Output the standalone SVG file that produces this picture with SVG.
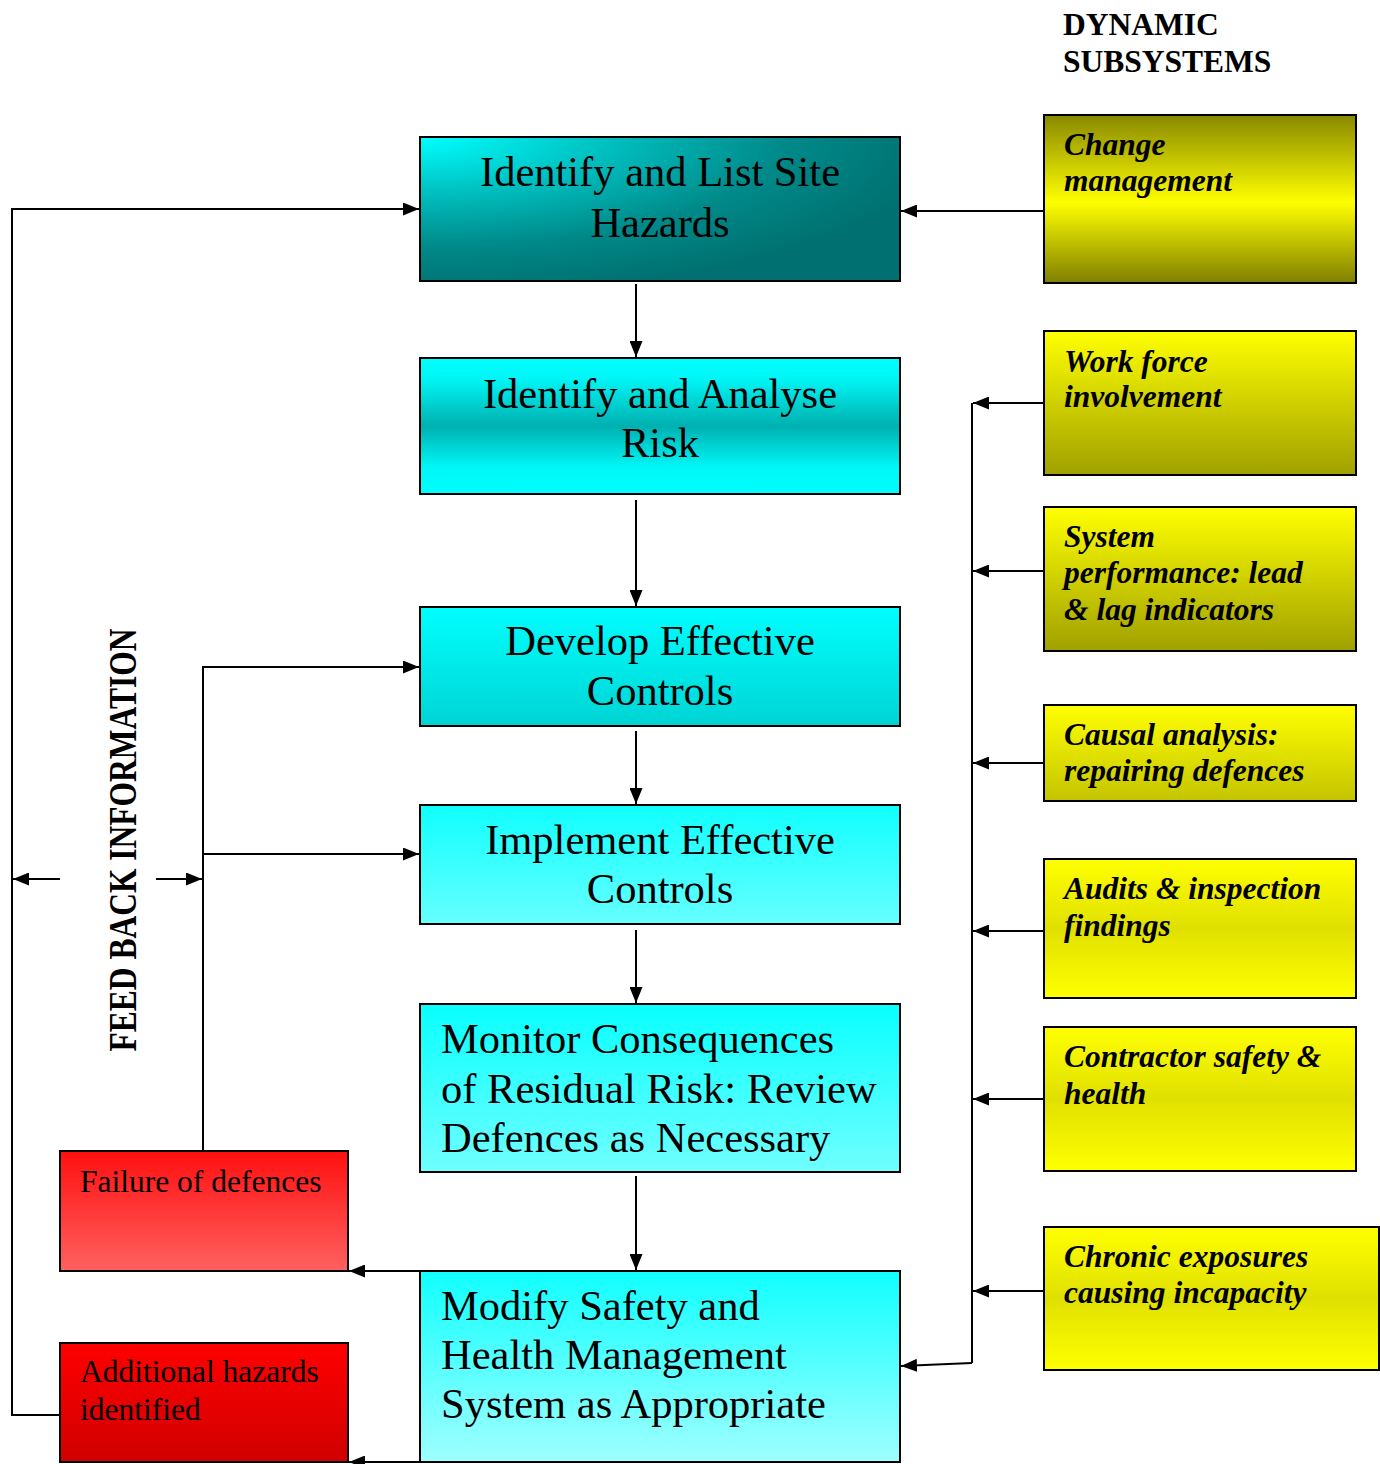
<svg xmlns="http://www.w3.org/2000/svg" width="1380" height="1464" viewBox="0 0 1380 1464">
<defs>
<style>
.box{stroke:#000;stroke-width:2}
.ct{font-family:"Liberation Serif","Times New Roman",serif;font-size:42.5px;fill:#000}
.yt{font-family:"Liberation Serif","Times New Roman",serif;font-size:31.5px;font-weight:bold;font-style:italic;fill:#000}
.rt{font-family:"Liberation Serif","Times New Roman",serif;font-size:31.5px;fill:#000}
.ht{font-family:"Liberation Serif","Times New Roman",serif;font-size:31.5px;font-weight:bold;fill:#000}
.ln{stroke:#000;stroke-width:2;fill:none}
.ar{stroke:#000;stroke-width:2;fill:none;marker-end:url(#ah)}
</style>
<marker id="ah" viewBox="0 0 16 13" refX="16" refY="6.5" markerWidth="16" markerHeight="13" orient="auto" markerUnits="userSpaceOnUse"><path d="M0,0 L16,6.5 L0,13 z" fill="#000"/></marker>
<radialGradient id="g1" cx="0" cy="0" r="1.1" fx="0" fy="0"><stop offset="0" stop-color="#00FFFF"/><stop offset="0.35" stop-color="#00C0C0"/><stop offset="0.7" stop-color="#008888"/><stop offset="1" stop-color="#007070"/></radialGradient>
<linearGradient id="g2" x1="0" y1="0" x2="0" y2="1"><stop offset="0" stop-color="#00FFFF"/><stop offset="0.15" stop-color="#00F6F6"/><stop offset="0.5" stop-color="#00B0B0"/><stop offset="0.8" stop-color="#00F6F6"/><stop offset="1" stop-color="#00FFFF"/></linearGradient>
<linearGradient id="g3" x1="0" y1="0" x2="0" y2="1"><stop offset="0" stop-color="#00FFFF"/><stop offset="1" stop-color="#00D4D4"/></linearGradient>
<linearGradient id="g4" x1="0" y1="0" x2="0" y2="1"><stop offset="0" stop-color="#10FFFF"/><stop offset="1" stop-color="#66FFFF"/></linearGradient>
<linearGradient id="g5" x1="0" y1="0" x2="0" y2="1"><stop offset="0" stop-color="#08FFFF"/><stop offset="1" stop-color="#70FFFF"/></linearGradient>
<linearGradient id="g6" x1="0" y1="0" x2="0" y2="1"><stop offset="0" stop-color="#10FFFF"/><stop offset="1" stop-color="#A0FFFF"/></linearGradient>
<linearGradient id="y1" x1="0" y1="0" x2="0" y2="1"><stop offset="0" stop-color="#888800"/><stop offset="0.52" stop-color="#FFFF00"/><stop offset="1" stop-color="#7F7F00"/></linearGradient>
<linearGradient id="y2" x1="0" y1="0" x2="0" y2="1"><stop offset="0" stop-color="#FFFF00"/><stop offset="1" stop-color="#A0A000"/></linearGradient>
<linearGradient id="y4" x1="0" y1="0" x2="0" y2="1"><stop offset="0" stop-color="#FFFF00"/><stop offset="1" stop-color="#C4C400"/></linearGradient>
<linearGradient id="y5" x1="0" y1="0" x2="0" y2="1"><stop offset="0" stop-color="#FFFF00"/><stop offset="0.5" stop-color="#E0E000"/><stop offset="1" stop-color="#FFFF00"/></linearGradient>
<linearGradient id="r1" x1="0" y1="0" x2="0" y2="1"><stop offset="0" stop-color="#FF1010"/><stop offset="1" stop-color="#FF6060"/></linearGradient>
<linearGradient id="r2" x1="0" y1="0" x2="0" y2="1"><stop offset="0" stop-color="#FF0000"/><stop offset="1" stop-color="#D00000"/></linearGradient>
</defs>
<rect width="1380" height="1464" fill="#fff"/>

<g id="heading">
<text class="ht" x="1063" y="35">DYNAMIC</text>
<text class="ht" x="1063" y="72">SUBSYSTEMS</text>
</g>

<g id="feedback-label">
<text class="ht" transform="translate(136,840) rotate(-90) scale(1,1.3)" text-anchor="middle" x="0" y="0">FEED BACK INFORMATION</text>
</g>

<g id="connectors">
<line class="ar" x1="636" y1="284" x2="636" y2="357"/>
<line class="ar" x1="636" y1="500" x2="636" y2="606"/>
<line class="ar" x1="636" y1="731" x2="636" y2="804"/>
<line class="ar" x1="636" y1="930" x2="636" y2="1003"/>
<line class="ar" x1="636" y1="1176" x2="636" y2="1270"/>
<line class="ar" x1="1044" y1="211" x2="901" y2="211"/>
<line class="ln" x1="972" y1="403" x2="972" y2="1363"/>
<line class="ar" x1="972" y1="1363" x2="901" y2="1366"/>
<line class="ar" x1="1044" y1="403" x2="973" y2="403"/>
<line class="ar" x1="1044" y1="571" x2="973" y2="571"/>
<line class="ar" x1="1044" y1="763" x2="973" y2="763"/>
<line class="ar" x1="1044" y1="931" x2="973" y2="931"/>
<line class="ar" x1="1044" y1="1099" x2="973" y2="1099"/>
<line class="ar" x1="1044" y1="1291" x2="973" y2="1291"/>
<polyline class="ln" points="59,1415 12,1415 12,209 400,209"/>
<line class="ar" x1="12" y1="209" x2="419" y2="209"/>
<line class="ar" x1="60" y1="879" x2="13" y2="879"/>
<line class="ar" x1="156" y1="879" x2="202" y2="879"/>
<polyline class="ln" points="203,1150 203,667 300,667"/>
<line class="ar" x1="203" y1="667" x2="419" y2="667"/>
<line class="ar" x1="203" y1="854" x2="419" y2="854"/>
<line class="ar" x1="420" y1="1271" x2="349" y2="1271"/>
<line class="ar" x1="420" y1="1462" x2="349" y2="1462"/>
</g>

<g id="n-identify-list">
<rect class="box" x="420" y="137" width="480" height="144" fill="url(#g1)"/>
<text class="ct" x="660" y="186" text-anchor="middle">Identify and List Site</text>
<text class="ct" x="660" y="237" text-anchor="middle">Hazards</text>
</g>
<g id="n-identify-analyse">
<rect class="box" x="420" y="358" width="480" height="136" fill="url(#g2)"/>
<text class="ct" x="660" y="408" text-anchor="middle">Identify and Analyse</text>
<text class="ct" x="660" y="457" text-anchor="middle">Risk</text>
</g>
<g id="n-develop">
<rect class="box" x="420" y="607" width="480" height="119" fill="url(#g3)"/>
<text class="ct" x="660" y="655" text-anchor="middle">Develop Effective</text>
<text class="ct" x="660" y="705" text-anchor="middle">Controls</text>
</g>
<g id="n-implement">
<rect class="box" x="420" y="805" width="480" height="119" fill="url(#g4)"/>
<text class="ct" x="660" y="854" text-anchor="middle">Implement Effective</text>
<text class="ct" x="660" y="903" text-anchor="middle">Controls</text>
</g>
<g id="n-monitor">
<rect class="box" x="420" y="1004" width="480" height="168" fill="url(#g5)"/>
<text class="ct" x="441" y="1053">Monitor Consequences</text>
<text class="ct" x="441" y="1103">of Residual Risk: Review</text>
<text class="ct" x="441" y="1152">Defences as Necessary</text>
</g>
<g id="n-modify">
<rect class="box" x="420" y="1271" width="480" height="191" fill="url(#g6)"/>
<text class="ct" x="441" y="1320">Modify Safety and</text>
<text class="ct" x="441" y="1369">Health Management</text>
<text class="ct" x="441" y="1418">System as Appropriate</text>
</g>

<g id="n-change">
<rect class="box" x="1044" y="115" width="312" height="168" fill="url(#y1)"/>
<text class="yt" x="1064" y="155">Change</text>
<text class="yt" x="1064" y="191">management</text>
</g>
<g id="n-workforce">
<rect class="box" x="1044" y="331" width="312" height="144" fill="url(#y2)"/>
<text class="yt" x="1064" y="372">Work force</text>
<text class="yt" x="1064" y="407">involvement</text>
</g>
<g id="n-performance">
<rect class="box" x="1044" y="507" width="312" height="144" fill="url(#y2)"/>
<text class="yt" x="1064" y="547">System</text>
<text class="yt" x="1064" y="583">performance: lead</text>
<text class="yt" x="1064" y="620">&amp; lag indicators</text>
</g>
<g id="n-causal">
<rect class="box" x="1044" y="705" width="312" height="96" fill="url(#y4)"/>
<text class="yt" x="1064" y="745">Causal analysis:</text>
<text class="yt" x="1064" y="781">repairing defences</text>
</g>
<g id="n-audits">
<rect class="box" x="1044" y="859" width="312" height="139" fill="url(#y5)"/>
<text class="yt" x="1064" y="899">Audits &amp; inspection</text>
<text class="yt" x="1064" y="936">findings</text>
</g>
<g id="n-contractor">
<rect class="box" x="1044" y="1027" width="312" height="144" fill="url(#y5)"/>
<text class="yt" x="1064" y="1067">Contractor safety &amp;</text>
<text class="yt" x="1064" y="1104">health</text>
</g>
<g id="n-chronic">
<rect class="box" x="1044" y="1227" width="335" height="143" fill="url(#y5)"/>
<text class="yt" x="1064" y="1267">Chronic exposures</text>
<text class="yt" x="1064" y="1303">causing incapacity</text>
</g>

<g id="n-failure">
<rect class="box" x="60" y="1151" width="288" height="120" fill="url(#r1)"/>
<text class="rt" x="80" y="1192">Failure of defences</text>
</g>
<g id="n-additional">
<rect class="box" x="60" y="1343" width="288" height="119" fill="url(#r2)"/>
<text class="rt" x="80" y="1382">Additional hazards</text>
<text class="rt" x="80" y="1420">identified</text>
</g>
</svg>
